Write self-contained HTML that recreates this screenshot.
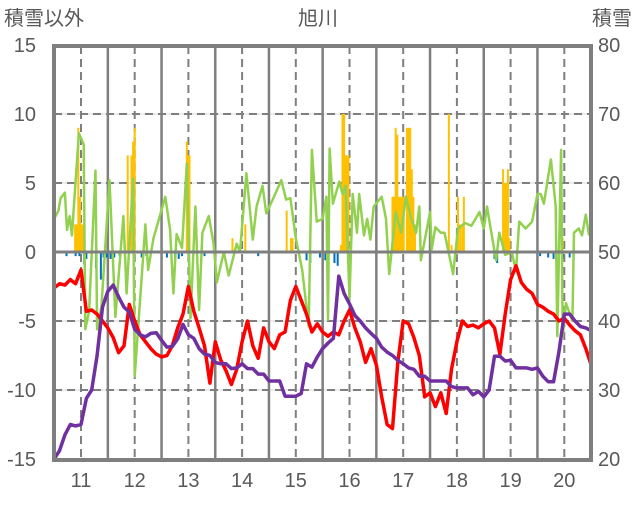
<!DOCTYPE html>
<html><head><meta charset="utf-8"><style>
body{margin:0;background:#fff;}
svg text{font-family:"Liberation Sans","Noto Sans CJK JP",sans-serif;fill:#595959;}
</style></head><body>
<svg id="c" width="636" height="501" xmlns="http://www.w3.org/2000/svg">
<text x="318" y="25" font-size="20" text-anchor="middle">旭川</text>
<text x="4" y="25" font-size="20">積雪以外</text>
<text x="632" y="25" font-size="20" text-anchor="end">積雪</text>
<g id="grid"></g><g id="bars"></g><g id="lines"></g><g id="axes"></g>
</svg>
<script>
const leftTicks=[15,10,5,0,-5,-10,-15];
const rightTicks=[80,70,60,50,40,30,20];
const yearLabels=[11,12,13,14,15,16,17,18,19,20];
const redV=[-2.6,-2.3,-2.4,-2.0,-2.3,-1.3,-4.3,-4.2,-4.5,-5.0,-5.5,-6.2,-7.3,-6.8,-3.8,-5.0,-6.0,-6.5,-7.0,-7.4,-7.6,-7.5,-6.8,-5.5,-4.5,-2.5,-4.3,-5.5,-6.8,-9.5,-6.5,-7.8,-8.6,-9.6,-8.5,-6.5,-5.0,-6.8,-7.7,-5.5,-6.5,-7.0,-6.0,-5.8,-3.5,-2.5,-3.5,-4.5,-5.8,-5.2,-5.8,-6.1,-5.8,-6.0,-5.0,-4.2,-5.5,-6.5,-8.0,-7.0,-8.2,-10.5,-12.5,-12.8,-8.0,-5.0,-5.2,-6.2,-7.5,-10.5,-10.2,-11.2,-10.2,-11.7,-8.5,-6.5,-5.0,-5.4,-5.3,-5.5,-5.2,-5.0,-5.5,-7.4,-4.5,-2.0,-1.0,-2.2,-2.7,-3.0,-3.8,-4.0,-4.3,-4.5,-5.0,-4.8,-5.3,-5.7,-6.0,-7.0,-8.2];
const purpleV=[20,21.2,23.5,25,24.8,25,28.8,30,35,42,44.3,45.2,43.5,42,41.3,38.8,38,37.7,38.2,38.3,37.2,36.2,36.3,37.4,39.5,38,37.5,36,35.2,35,34,33.8,33.8,33.1,33.2,33.8,33.1,33.1,32.3,32.3,31.3,31.3,31.3,29.1,29.1,29.1,29.5,33.8,33.3,34.8,36,36.8,37.5,46.5,44,42.5,40.8,40,39,38.2,37.5,36.2,35.5,35,34.3,33.8,33.2,33,32,32,31.3,31.3,31.3,31.3,30.5,30.3,30.3,30.3,29.3,29.8,29,30,34.9,34.9,34.2,34.3,33.2,33.2,33.2,33,33.2,32,31.2,31.2,35.5,41,41,40,39.2,39,38.6];
const greenT=[10.5,10.58,10.62,10.7,10.74,10.79,10.83,10.96,11.05,11.08,11.15,11.27,11.3,11.38,11.53,11.64,11.79,11.85,11.97,12.0,12.2,12.25,12.35,12.57,12.66,12.72,12.78,12.88,12.97,13.04,13.13,13.2,13.26,13.38,13.47,13.53,13.66,13.75,13.9,13.96,14.08,14.2,14.27,14.38,14.45,14.57,14.73,14.82,14.9,15.0,15.12,15.24,15.3,15.39,15.5,15.57,15.6,15.63,15.69,15.81,15.87,15.93,16.0,16.06,16.14,16.18,16.27,16.33,16.39,16.45,16.6,16.68,16.74,16.86,16.96,17.05,17.15,17.24,17.3,17.33,17.5,17.53,17.6,17.7,17.77,17.93,18.02,18.15,18.27,18.42,18.5,18.56,18.65,18.73,18.79,18.9,19.02,19.1,19.16,19.28,19.4,19.5,19.56,19.62,19.75,19.84,19.87,19.94,19.97,20.03,20.15,20.18,20.27,20.33,20.4,20.46];
const greenV=[2.4,3.0,3.9,4.3,1.6,2.6,1.2,8.6,7.8,-5.6,-4.3,5.9,-5.6,-4.0,5.2,-4.7,2.6,-3.0,5.3,-9.0,2.0,-1.3,1.0,4.0,1.6,-3.0,1.3,0.3,6.4,-4.8,3.3,-4.2,1.4,2.6,0.6,-2.2,0.0,-1.7,0.6,0.0,5.7,0.9,3.3,4.8,2.8,3.8,5.2,3.8,3.9,1.0,-1.3,-5.4,7.4,2.2,2.4,4.0,-4.9,7.5,3.5,5.1,4.2,4.8,-3.4,4.2,1.4,4.2,1.2,2.4,0.9,3.3,4.0,2.4,-1.6,2.9,1.4,4.0,2.4,1.4,3.3,-0.6,2.9,0.2,1.8,1.4,1.4,-1.6,1.7,2.1,1.9,2.9,1.7,3.3,1.2,-0.6,1.4,-0.2,0.0,-1.4,2.2,1.7,2.2,4.2,4.2,3.5,6.7,3.3,-6.1,7.4,-6.1,-3.7,-5.0,1.4,1.7,1.2,2.7,1.2];
const orangeT=[10.89,10.92,10.95,10.98,11.01,11.03,11.87,11.94,11.97,12.0,12.97,13.0,13.02,13.82,14.06,14.83,14.91,14.94,15.84,15.87,15.9,15.92,15.95,15.98,16.8,16.83,16.86,16.89,16.92,16.95,16.98,17.01,17.07,17.1,17.13,17.16,17.19,17.22,17.85,17.9,18.02,18.06,18.1,18.13,18.86,18.89,18.92,18.95,18.98,19.97];
const orangeV=[2,2,9,4,2,2,7,7,8,9,8,7,7,1,2,3,1,1,0.5,10,10,7,7,7,4,4,9,8.5,4,4,4,4,9,9,9,6,4,2,10,0.5,4,2,2,4,6,5,5,6,1,1];
const blueT=[10.73,10.9,10.97,11.06,11.1,11.28,11.37,11.42,11.48,11.55,11.62,11.72,12.13,12.22,12.6,12.75,12.82,12.88,13.3,14.3,15.2,15.27,15.45,15.55,15.6,15.72,15.78,18.7,18.75,19.55,19.7,19.8,19.85,19.97,20.1,20.17];
const blueV=[-0.3,-0.3,-0.3,-0.9,-0.5,-1.2,-2.0,-0.4,-0.4,-0.5,-0.4,-0.3,-0.4,-0.3,-0.4,-0.5,-0.5,-0.3,-0.3,-0.3,-0.6,-0.8,-0.4,-0.6,-0.5,-0.8,-1.0,-0.5,-0.8,-0.3,-0.4,-0.5,-0.5,-0.5,-0.4,-0.4];

const NS='http://www.w3.org/2000/svg';
const L=54,R=591,T=46,B=460;
const x=t=>81+(t-11)*53.7;
const yl=v=>252-v*13.8;
const yr=v=>yl((v-50)/2);
function mk(tag,parent,attrs){const e=document.createElementNS(NS,tag);for(const k in attrs)e.setAttribute(k,attrs[k]);document.getElementById(parent).appendChild(e);return e;}
// grid
leftTicks.forEach(v=>{
  if(v===15||v===-15||v===0)return;
  const g=mk('line','grid',{x1:L,x2:R,y1:yl(v),y2:yl(v),stroke:'#d9d9d9','stroke-width':1});
  
  
  const d=mk('line','grid',{x1:L,x2:R,y1:yl(v),y2:yl(v),stroke:'#7f7f7f','stroke-width':2,'stroke-dasharray':'8,5'});
  
  
});
yearLabels.forEach(yv=>{
  const d=mk('line','grid',{x1:x(yv),x2:x(yv),y1:T,y2:B,stroke:'#7f7f7f','stroke-width':2,'stroke-dasharray':'8,5'});
  
  
  if(yv<20){const s=mk('line','grid',{x1:x(yv+0.5),x2:x(yv+0.5),y1:T,y2:B,stroke:'#7f7f7f','stroke-width':2.5});
  
  }
  const tx=mk('text','axes',{x:x(yv),y:487,'font-size':20,'text-anchor':'middle'});
  tx.textContent=yv;
  
  
});
leftTicks.forEach(v=>{
  const tx=mk('text','axes',{x:36,y:yl(v)+7,'font-size':20,'text-anchor':'end'});
  tx.textContent=v;
  
  
});
rightTicks.forEach(v=>{
  const tx=mk('text','axes',{x:598,y:yr(v)+7,'font-size':20});
  tx.textContent=v;
  
  
});
// bars
orangeT.forEach((t,i)=>{
  const v=orangeV[i];
  const b=mk('rect','bars',{x:x(t)-1,y:yl(v),width:2,height:yl(0)-yl(v),fill:'#ffc000'});
  
  
});
blueT.forEach((t,i)=>{
  const v=blueV[i];
  const b=mk('rect','bars',{x:x(t)-1,y:yl(0),width:2,height:yl(v)-yl(0),fill:'#0070c0'});
  
  
});
function path(pts){return pts.map((p,i)=>(i?'L':'M')+p[0].toFixed(1)+','+p[1].toFixed(1)).join('');}
const gp=mk('path','lines',{d:path(greenT.map((t,i)=>[x(t),yl(greenV[i])])),fill:'none',stroke:'#92d050','stroke-width':2.5,'stroke-linejoin':'round'});


const rp=mk('path','lines',{d:path(redV.map((v,i)=>[x(10.5+i*0.1),yl(v)])),fill:'none',stroke:'#ff0000','stroke-width':3.5,'stroke-linejoin':'round'});


const pp=mk('path','lines',{d:path(purpleV.map((v,i)=>[x(10.5+i*0.1),yr(v)])),fill:'none',stroke:'#7030a0','stroke-width':3.5,'stroke-linejoin':'round'});


const z=mk('line','axes',{x1:L,x2:R,y1:yl(0),y2:yl(0),stroke:'#7f7f7f','stroke-width':3});


const fr=mk('rect','axes',{x:L,y:T,width:R-L,height:B-T,fill:'none',stroke:'#7f7f7f','stroke-width':4});


</script>
</body></html>
